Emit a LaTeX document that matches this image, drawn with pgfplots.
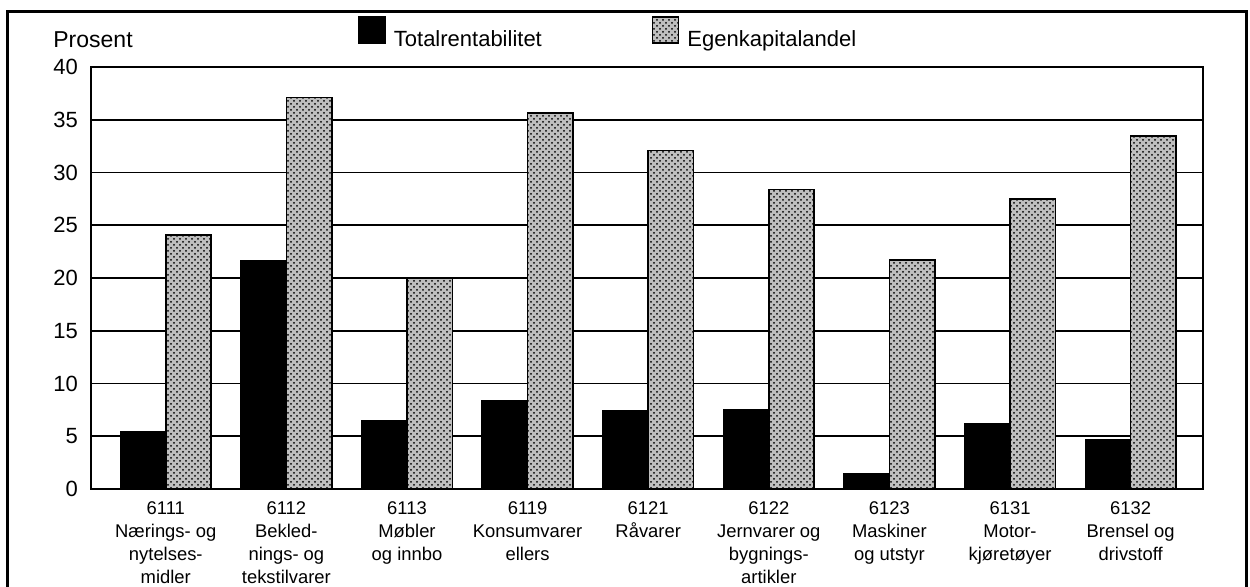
\documentclass[border=0pt]{standalone}
\usepackage{fontspec}
\setmainfont{Liberation Sans}
\usepackage{pgfplots}
\pgfplotsset{compat=1.18}
\usetikzlibrary{patterns}

\begin{document}
\begin{tikzpicture}
\path[use as bounding box] (-45.5pt,-49pt) rectangle (579.5pt,244.5pt);
\draw[line width=1.5pt] (-41.5pt,-60pt) -- (-41.5pt,238.5pt) -- (577.5pt,238.5pt) -- (577.5pt,-60pt);
\node[anchor=base west, font=\fontsize{11.5}{13}\selectfont, inner sep=0pt] at (-19pt,220.5pt) {Prosent};
\begin{axis}[
  at={(0pt,0pt)}, anchor=south west,
  width=556pt, height=211pt, scale only axis,
  ybar=0pt, bar width=0.376,
  xmin=-0.62, xmax=8.6, ymin=0, ymax=40,
  ytick={0,5,...,40},
  xtick={0,...,8},
  xticklabels={{6111\\Nærings- og\\nytelses-\\midler},{6112\\Bekled-\\nings- og\\tekstilvarer},{6113\\Møbler\\og innbo},{6119\\Konsumvarer\\ellers},{6121\\Råvarer},{6122\\Jernvarer og\\bygnings-\\artikler},{6123\\Maskiner\\og utstyr},{6131\\Motor-\\kjøretøyer},{6132\\Brensel og\\drivstoff}},
  major tick length=0pt,
  /pgf/number format/assume math mode=true,
  ymajorgrids, grid style={black, line width=0.8pt},
  axis line style={line width=1pt},
  yticklabel style={font=\fontsize{11}{13}\selectfont, xshift=-3pt},
  xticklabel style={align=center, font=\fontsize{9.2}{11.5}\selectfont, anchor=north, yshift=-3pt},
  legend columns=2,
  legend style={at={(0.240,1.076)}, anchor=west, draw=none, fill=none, inner sep=0pt,
    font=\fontsize{11}{13}\selectfont,
    /tikz/every odd column/.append style={column sep=2pt},
    /tikz/every even column/.append style={column sep=53pt}},
  legend image code/.code={\draw[#1] (0pt,-1.5pt) rectangle (13pt,11.5pt);},
]
\addplot[fill=black, draw=black, line width=0.8pt] coordinates {
(0,5.4) (1,21.6) (2,6.45) (3,8.4) (4,7.4) (5,7.55) (6,1.45) (7,6.2) (8,4.7)};
\addplot[fill=black!25, draw=black, line width=0.8pt, postaction={pattern=crosshatch dots}] coordinates {
(0,24.05) (1,37.1) (2,20.0) (3,35.65) (4,32.1) (5,28.4) (6,21.7) (7,27.5) (8,33.45)};
\legend{Totalrentabilitet, Egenkapitalandel}
\end{axis}
\end{tikzpicture}
\end{document}
